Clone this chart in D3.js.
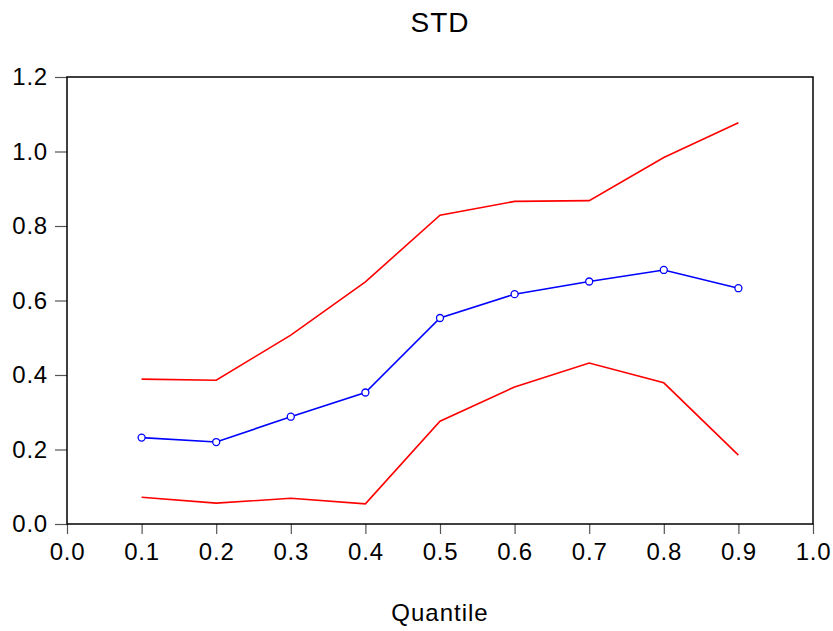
<!DOCTYPE html>
<html>
<head>
<meta charset="utf-8">
<script src="https://cdn.jsdelivr.net/npm/d3@7"></script>
<style>
  body { margin: 0; background: #fff; }
  text { font-family: "Liberation Sans", Arial, sans-serif; }
</style>
</head>
<body>
<div id="chart"></div>
<script>
var quantiles = [0.1, 0.2, 0.3, 0.4, 0.5, 0.6, 0.7, 0.8, 0.9];
var estimate = [0.232, 0.220, 0.288, 0.353, 0.553, 0.617, 0.651, 0.682, 0.633];
var upperBand = [0.389, 0.386, 0.507, 0.650, 0.829, 0.866, 0.868, 0.984, 1.077];
var lowerBand = [0.072, 0.056, 0.069, 0.054, 0.276, 0.368, 0.432, 0.379, 0.185];
var xTicks = [0, 0.1, 0.2, 0.3, 0.4, 0.5, 0.6, 0.7, 0.8, 0.9, 1.0];
var yTicks = [0, 0.2, 0.4, 0.6, 0.8, 1.0, 1.2];

var margin = { top: 77, right: 20, bottom: 107, left: 67 },
    width = 833 - margin.left - margin.right,
    height = 631 - margin.top - margin.bottom;

var svg = d3.select('#chart').append('svg')
    .attr('width', 833)
    .attr('height', 631);

var chart = svg.append('g')
    .attr('transform', 'translate(' + margin.left + ',' + margin.top + ')');

var xScale = d3.scaleLinear().domain([0, 1]).range([0, width]);
var yScale = d3.scaleLinear().domain([0, 1.2]).range([height, 0]);

var xAxis = d3.axisBottom(xScale)
    .tickValues(xTicks)
    .tickFormat(d3.format('.1f'))
    .tickSizeInner(10)
    .tickSizeOuter(0)
    .tickPadding(9);

var yAxis = d3.axisLeft(yScale)
    .tickValues(yTicks)
    .tickFormat(d3.format('.1f'))
    .tickSizeInner(12)
    .tickSizeOuter(0)
    .tickPadding(7);

var xGuide = chart.append('g')
    .attr('transform', 'translate(0,' + height + ')')
    .call(xAxis);

var yGuide = chart.append('g')
    .call(yAxis);

[xGuide, yGuide].forEach(function(g) {
    g.select('.domain').remove();
    g.selectAll('.tick line').attr('stroke', '#555').attr('stroke-width', 1.2);
    g.selectAll('.tick text')
        .attr('fill', '#000')
        .style('font-size', '24px')
        .style('letter-spacing', '0.8px');
});

// frame
chart.append('rect')
    .attr('x', 0)
    .attr('y', 0)
    .attr('width', width)
    .attr('height', height)
    .attr('fill', 'none')
    .attr('stroke', '#000')
    .attr('stroke-width', 1.5);

var line = d3.line()
    .x(function(d, i) { return xScale(quantiles[i]); })
    .y(function(d) { return yScale(d); });

chart.append('path')
    .datum(upperBand)
    .attr('d', line)
    .attr('fill', 'none')
    .attr('stroke', '#ff0000')
    .attr('stroke-width', 1.6);

chart.append('path')
    .datum(lowerBand)
    .attr('d', line)
    .attr('fill', 'none')
    .attr('stroke', '#ff0000')
    .attr('stroke-width', 1.6);

chart.append('path')
    .datum(estimate)
    .attr('d', line)
    .attr('fill', 'none')
    .attr('stroke', '#0000ff')
    .attr('stroke-width', 1.6);

chart.selectAll('circle').data(estimate)
    .enter().append('circle')
        .attr('cx', function(d, i) { return xScale(quantiles[i]); })
        .attr('cy', function(d) { return yScale(d); })
        .attr('r', 3.5)
        .attr('fill', '#fff')
        .attr('stroke', '#0000ff')
        .attr('stroke-width', 1.3);

svg.append('text')
    .attr('x', margin.left + width / 2)
    .attr('y', 32)
    .attr('text-anchor', 'middle')
    .style('font-size', '28px')
    .style('letter-spacing', '1px')
    .text('STD');

svg.append('text')
    .attr('x', margin.left + width / 2)
    .attr('y', 621)
    .attr('text-anchor', 'middle')
    .style('font-size', '24px')
    .style('letter-spacing', '1px')
    .text('Quantile');
</script>
</body>
</html>
